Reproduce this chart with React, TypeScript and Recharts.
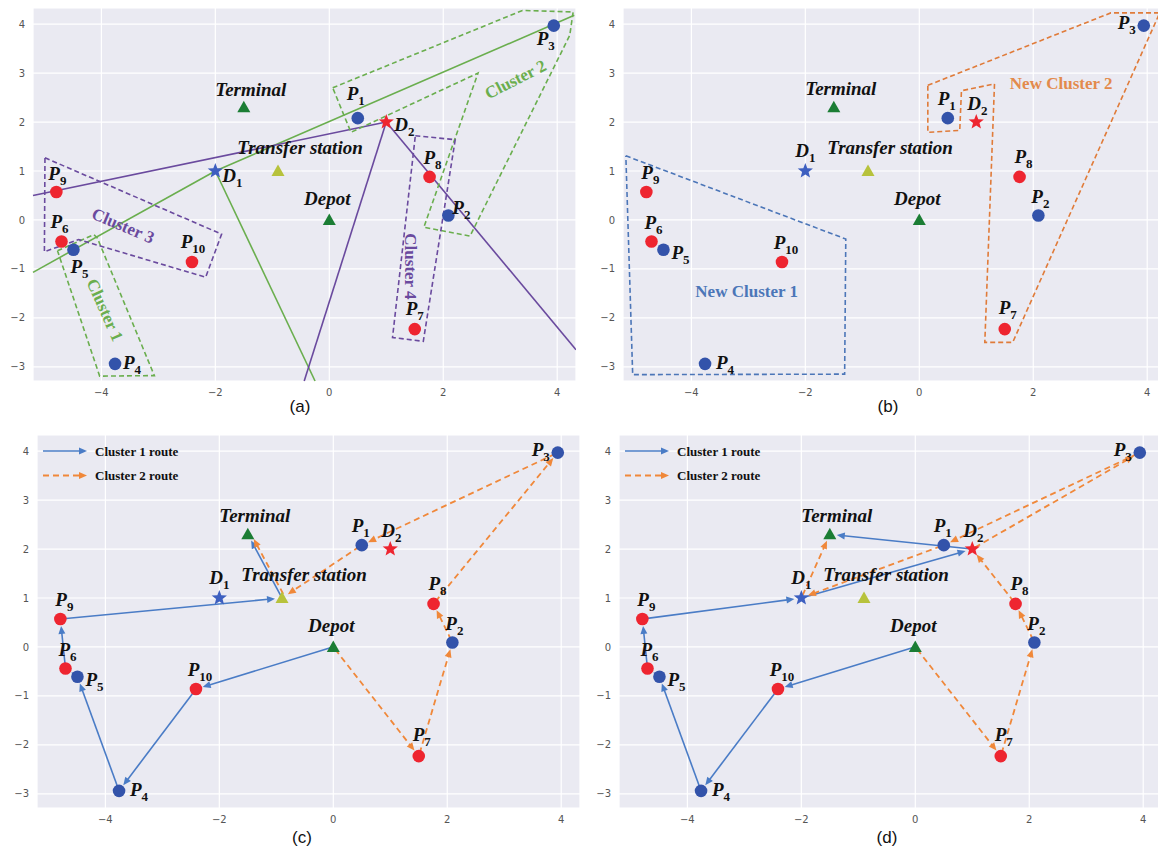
import React from 'react';
import {
  CartesianGrid,
  Legend,
  ReferenceDot,
  ReferenceLine,
  Scatter,
  ScatterChart,
  XAxis,
  YAxis,
} from 'recharts';

// sites
const siteNames = ['P1', 'P2', 'P3', 'P4', 'P5', 'P6', 'P7', 'P8', 'P9', 'P10', 'D1', 'D2', 'Terminal', 'Transfer station', 'Depot'];
const siteX = [0.5, 2.09, 3.94, -3.76, -4.49, -4.7, 1.5, 1.76, -4.79, -2.41, -2.0, 1.0, -1.5, -0.9, 0.0];
const siteY = [2.08, 0.09, 3.97, -2.94, -0.61, -0.44, -2.23, 0.88, 0.57, -0.86, 1.0, 2.0, 2.3, 1.0, 0.0];
const siteType = ['pickup', 'pickup', 'pickup', 'pickup', 'pickup', 'delivery', 'delivery', 'delivery', 'delivery', 'delivery', 'hubA', 'hubB', 'terminal', 'transfer', 'depot'];

const xTicks = [-4, -2, 0, 2, 4];
const yTicks = [-3, -2, -1, 0, 1, 2, 3, 4];

// (a) sweep rays out of D1 and D2
const raysFromD1 = [[-5.2, -1.07], [4.3, 4.18], [-0.25, -3.29]];
const raysFromD2 = [[-5.2, 0.5], [-0.44, -3.29], [4.33, -2.65]];

// (a) cluster outlines
const cluster1 = [[-4.77, -0.63], [-4.13, -0.3], [-4.07, -0.37], [-3.07, -3.18], [-4.03, -3.19]];
const cluster2 = [[0.06, 2.7], [3.39, 4.28], [4.28, 4.25], [4.22, 3.77], [2.47, -0.33], [1.66, -0.15], [2.61, 3.0], [0.38, 1.79]];
const cluster3 = [[-4.99, 1.27], [-1.89, -0.29], [-2.17, -1.17], [-4.4, -0.4], [-5.0, -0.65]];
const cluster4 = [[1.51, 1.72], [2.21, 1.64], [1.65, -2.48], [1.11, -2.4]];

// (b) merged clusters
const newCluster1 = [[-5.15, 1.31], [-1.29, -0.39], [-1.31, -3.15], [-5.03, -3.16]];
const newCluster2 = [[0.15, 2.75], [3.36, 4.23], [4.22, 4.23], [1.64, -2.5], [1.15, -2.5], [1.32, 2.78], [0.74, 2.64], [0.71, 1.83], [0.15, 1.79]];

const clusterLabelsA = ['Cluster 1', 'Cluster 2', 'Cluster 3', 'Cluster 4'];
const clusterLabelXA = [-3.94, 3.27, -3.62, 1.42];
const clusterLabelYA = [-1.84, 2.87, -0.12, -0.95];
const clusterLabelsB = ['New Cluster 1', 'New Cluster 2'];
const clusterLabelXB = [-3.03, 2.49];
const clusterLabelYB = [-1.46, 2.79];

// routes (c) and (d)
const route1C = ['Depot', 'P10', 'P4', 'P5', 'P6', 'P9', 'Transfer station', 'Terminal'];
const route2C = ['Depot', 'P7', 'P2', 'P8', 'P3', 'P1', 'Transfer station', 'Terminal'];
const route1D = ['Depot', 'P10', 'P4', 'P5', 'P6', 'P9', 'D1', 'D2', 'Terminal'];
const route2D = ['Depot', 'P7', 'P2', 'P8', 'D2', 'P3', 'P1', 'D1', 'Terminal'];
const routeNames = ['Cluster 1 route', 'Cluster 2 route'];

const X_DOMAIN: [number, number] = [-5.2, 4.33];
const Y_DOMAIN: [number, number] = [-3.29, 4.33];
const CHART_W = 573;
const CHART_H = 398;

const SERIF = "'Liberation Serif', 'Times New Roman', serif";
const BLUE_ROUTE = '#4a7cc6';
const ORANGE_ROUTE = '#f0883a';

const siteStyle: Record<string, { shape: string; color: string }> = {
  pickup: { shape: 'circle', color: '#3353aa' },
  delivery: { shape: 'circle', color: '#ee2530' },
  hubA: { shape: 'star', color: '#3d5fc0' },
  hubB: { shape: 'star', color: '#ee2530' },
  terminal: { shape: 'triangle', color: '#1b7d34' },
  transfer: { shape: 'triangle', color: '#b7c23c' },
  depot: { shape: 'triangle', color: '#1b7d34' },
};

const offsetsA: Record<string, [number, number]> = {
  P1: [-2, -24], P2: [13, -8], P3: [-8, 13], P4: [17, -1], P5: [6, 17],
  P6: [-2, -19], P7: [0, -20], P8: [3, -19], P9: [1, -18], P10: [1, -20],
  D1: [17, 5], D2: [18, 3], Terminal: [7, -17], 'Transfer station': [22, -23], Depot: [-2, -21],
};
const offsetsB: Record<string, [number, number]> = {
  P1: [-1, -19], P2: [2, -19], P3: [-17, -3], P4: [20, -1], P5: [17, 3],
  P6: [2, -18], P7: [3, -21], P8: [4, -20], P9: [4, -19], P10: [4, -19],
  D1: [0, -20], D2: [1, -18], Terminal: [7, -18], 'Transfer station': [22, -23], Depot: [-2, -21],
};

const sites = siteNames.map((name, i) => ({ name, x: siteX[i], y: siteY[i], type: siteType[i] }));
const siteAt = (name: string) => sites[siteNames.indexOf(name)];
const toPoints = (poly: number[][], closed = true) => {
  const pts = poly.map(([x, y]) => ({ x, y }));
  return closed ? [...pts, pts[0]] : pts;
};

const starPoints = (cx: number, cy: number, ro: number, ri: number) => {
  const pts: string[] = [];
  for (let k = 0; k < 10; k++) {
    const r = k % 2 === 0 ? ro : ri;
    const a = -Math.PI / 2 + (k * Math.PI) / 5;
    pts.push(`${cx + r * Math.cos(a)},${cy + r * Math.sin(a)}`);
  }
  return pts.join(' ');
};

function SiteLabel({ x, y, name }: { x: number; y: number; name: string }) {
  const m = name.match(/^([PD])(\d+)$/);
  return (
    <text x={x} y={y + 6} textAnchor="middle" fontFamily={SERIF} fontWeight="bold" fontStyle="italic" fontSize={19} fill="#111">
      {m ? (
        <>
          <tspan>{m[1]}</tspan>
          <tspan dy={5} fontSize={13} fontStyle="normal">{m[2]}</tspan>
        </>
      ) : (
        name
      )}
    </text>
  );
}

const makeSiteShape = (offsets: Record<string, [number, number]>) => (props: any) => {
  const { cx, cy, payload } = props;
  const st = siteStyle[payload.type];
  let marker;
  if (st.shape === 'circle') marker = <circle cx={cx} cy={cy} r={6.3} fill={st.color} />;
  else if (st.shape === 'star') marker = <polygon points={starPoints(cx, cy, 8, 3.4)} fill={st.color} />;
  else marker = <polygon points={`${cx},${cy - 6.5} ${cx + 6.5},${cy + 5} ${cx - 6.5},${cy + 5}`} fill={st.color} />;
  const [dx, dy] = offsets[payload.name];
  return (
    <g>
      {marker}
      <SiteLabel x={cx + dx} y={cy + dy} name={payload.name} />
    </g>
  );
};

const arrowShape = (color: string, dashed: boolean, shift = 0) => (p: any) => {
  const { x1, y1, x2, y2 } = p;
  const dx = x2 - x1;
  const dy = y2 - y1;
  const len = Math.hypot(dx, dy) || 1;
  const ux = dx / len;
  const uy = dy / len;
  const ox = -uy * shift;
  const oy = ux * shift;
  const tipX = x2 - ux * 7 + ox;
  const tipY = y2 - uy * 7 + oy;
  const bx = tipX - ux * 8;
  const by = tipY - uy * 8;
  return (
    <g>
      <line
        x1={x1 + ux * 3 + ox}
        y1={y1 + uy * 3 + oy}
        x2={bx + ux}
        y2={by + uy}
        stroke={color}
        strokeWidth={dashed ? 1.8 : 1.6}
        strokeDasharray={dashed ? '6 4' : undefined}
      />
      <polygon points={`${tipX},${tipY} ${bx - uy * 3.5},${by + ux * 3.5} ${bx + uy * 3.5},${by - ux * 3.5}`} fill={color} />
    </g>
  );
};

const routeLines = (route: string[], color: string, dashed: boolean, key: string, shared: string[] = []) =>
  route.slice(1).map((to, i) => {
    const a = siteAt(route[i]);
    const b = siteAt(to);
    const isShared = shared.some((s, j) => j > 0 && shared[j - 1] === route[i] && s === to);
    return (
      <ReferenceLine
        key={`${key}-${i}`}
        segment={[{ x: a.x, y: a.y }, { x: b.x, y: b.y }]}
        ifOverflow="visible"
        shape={arrowShape(color, dashed, isShared ? 3 : 0)}
      />
    );
  });

const rays = (from: string, ends: number[][], color: string, key: string) =>
  ends.map(([x, y], i) => {
    const s = siteAt(from);
    return (
      <ReferenceLine
        key={`${key}-${i}`}
        segment={[{ x: s.x, y: s.y }, { x, y }]}
        ifOverflow="visible"
        stroke={color}
        strokeWidth={1.6}
      />
    );
  });

const outline = (poly: number[][], color: string, key: string) => (
  <Scatter
    key={key}
    data={toPoints(poly)}
    line={{ stroke: color, strokeWidth: 1.6, strokeDasharray: '5 3' }}
    lineJointType="linear"
    shape={() => <g />}
    isAnimationActive={false}
  />
);

const textTag = (text: string, x: number, y: number, color: string, size: number, angle: number, key: string) => (
  <ReferenceDot
    key={key}
    x={x}
    y={y}
    shape={(p: any) => (
      <text
        x={p.cx}
        y={p.cy}
        transform={`rotate(${angle} ${p.cx} ${p.cy})`}
        textAnchor="middle"
        dominantBaseline="central"
        fontFamily={SERIF}
        fontWeight="bold"
        fontSize={size}
        fill={color}
      >
        {text}
      </text>
    )}
  />
);

function ArrowSample({ y, color, dashed }: { y: number; color: string; dashed: boolean }) {
  return (
    <g>
      <line x1={0} y1={y} x2={37} y2={y} stroke={color} strokeWidth={dashed ? 1.8 : 1.6} strokeDasharray={dashed ? '6 4' : undefined} />
      <polygon points={`44,${y} 36,${y - 3.5} 36,${y + 3.5}`} fill={color} />
    </g>
  );
}

function RouteLegend() {
  return (
    <svg width={200} height={50}>
      {routeNames.map((label, i) => {
        const y = 12 + i * 24.5;
        return (
          <g key={label}>
            <ArrowSample y={y} color={i === 0 ? BLUE_ROUTE : ORANGE_ROUTE} dashed={i === 1} />
            <text x={52} y={y + 4.5} fontFamily={SERIF} fontWeight="bold" fontSize={13} fill="#111">
              {label}
            </text>
          </g>
        );
      })}
    </svg>
  );
}

const fmt = (v: number) => String(v).replace('-', '\u2212');

function Panel({
  left,
  top,
  letter,
  letterX,
  letterY,
  offsets,
  extras,
  legend,
}: {
  left: number;
  top: number;
  letter: string;
  letterX: number;
  letterY: number;
  offsets: Record<string, [number, number]>;
  extras: React.ReactNode[];
  legend?: boolean;
}) {
  return (
    <>
      <div style={{ position: 'absolute', left, top }}>
        <ScatterChart width={CHART_W} height={CHART_H} margin={{ top: 0, right: 0, bottom: 0, left: 0 }}>
          <CartesianGrid stroke="#ffffff" strokeWidth={1.2} fill="#eaeaf2" fillOpacity={1} />
          <XAxis
            type="number"
            dataKey="x"
            domain={X_DOMAIN}
            ticks={xTicks}
            allowDataOverflow
            axisLine={false}
            tickLine={false}
            height={25}
            tickFormatter={fmt}
            tick={{ fontSize: 10, fill: '#555', fontFamily: 'DejaVu Sans' }}
          />
          <YAxis
            type="number"
            dataKey="y"
            domain={Y_DOMAIN}
            ticks={yTicks}
            allowDataOverflow
            axisLine={false}
            tickLine={false}
            width={30}
            tickFormatter={fmt}
            tick={{ fontSize: 10, fill: '#555', fontFamily: 'DejaVu Sans' }}
          />
          {extras}
          <Scatter data={sites} shape={makeSiteShape(offsets)} isAnimationActive={false} />
          {legend && (
            <Legend
              layout="horizontal"
              verticalAlign="middle"
              align="center"
              content={() => <RouteLegend />}
              wrapperStyle={{ left: 36, top: 4, width: 200, height: 50 }}
            />
          )}
        </ScatterChart>
      </div>
      <div
        style={{
          position: 'absolute',
          left: letterX,
          top: letterY,
          transform: 'translate(-50%, -50%)',
          fontFamily: "'Liberation Sans', Arial, sans-serif",
          fontSize: 17,
          color: '#111',
        }}
      >
        {letter}
      </div>
    </>
  );
}

export default function App() {
  const extrasA = [
    ...rays('D1', raysFromD1, '#6aae4e', 'g'),
    ...rays('D2', raysFromD2, '#6a4a9e', 'p'),
    outline(cluster1, '#6aae4e', 'c1'),
    outline(cluster2, '#6aae4e', 'c2'),
    outline(cluster3, '#6a4a9e', 'c3'),
    outline(cluster4, '#6a4a9e', 'c4'),
    textTag(clusterLabelsA[0], clusterLabelXA[0], clusterLabelYA[0], '#6aae4e', 17, 66, 't1'),
    textTag(clusterLabelsA[1], clusterLabelXA[1], clusterLabelYA[1], '#6aae4e', 17, -27, 't2'),
    textTag(clusterLabelsA[2], clusterLabelXA[2], clusterLabelYA[2], '#6a4a9e', 17, 23, 't3'),
    textTag(clusterLabelsA[3], clusterLabelXA[3], clusterLabelYA[3], '#6a4a9e', 17, 90, 't4'),
  ];
  const extrasB = [
    outline(newCluster1, '#4c76b8', 'n1'),
    outline(newCluster2, '#e07b39', 'n2'),
    textTag(clusterLabelsB[0], clusterLabelXB[0], clusterLabelYB[0], '#4c76b8', 17, 0, 'nt1'),
    textTag(clusterLabelsB[1], clusterLabelXB[1], clusterLabelYB[1], '#e38a4c', 17, 0, 'nt2'),
  ];
  const extrasC = [
    ...routeLines(route1C, BLUE_ROUTE, false, 'c1'),
    ...routeLines(route2C, ORANGE_ROUTE, true, 'c2', route1C),
  ];
  const extrasD = [
    ...routeLines(route1D, BLUE_ROUTE, false, 'd1'),
    ...routeLines(route2D, ORANGE_ROUTE, true, 'd2', route1D),
  ];

  return (
    <div style={{ position: 'absolute', left: 0, top: 0, width: 1158, height: 859, overflow: 'hidden', background: '#fff' }}>
      <Panel left={2.6} top={8.3} letter="(a)" letterX={300} letterY={407} offsets={offsetsA} extras={extrasA} />
      <Panel left={592.7} top={8.3} letter="(b)" letterX={888} letterY={407} offsets={offsetsB} extras={extrasB} />
      <Panel left={6.6} top={435} letter="(c)" letterX={302} letterY={838} offsets={offsetsB} extras={extrasC} legend />
      <Panel left={589.3} top={435} letter="(d)" letterX={887} letterY={838} offsets={offsetsB} extras={extrasD} legend />
    </div>
  );
}
